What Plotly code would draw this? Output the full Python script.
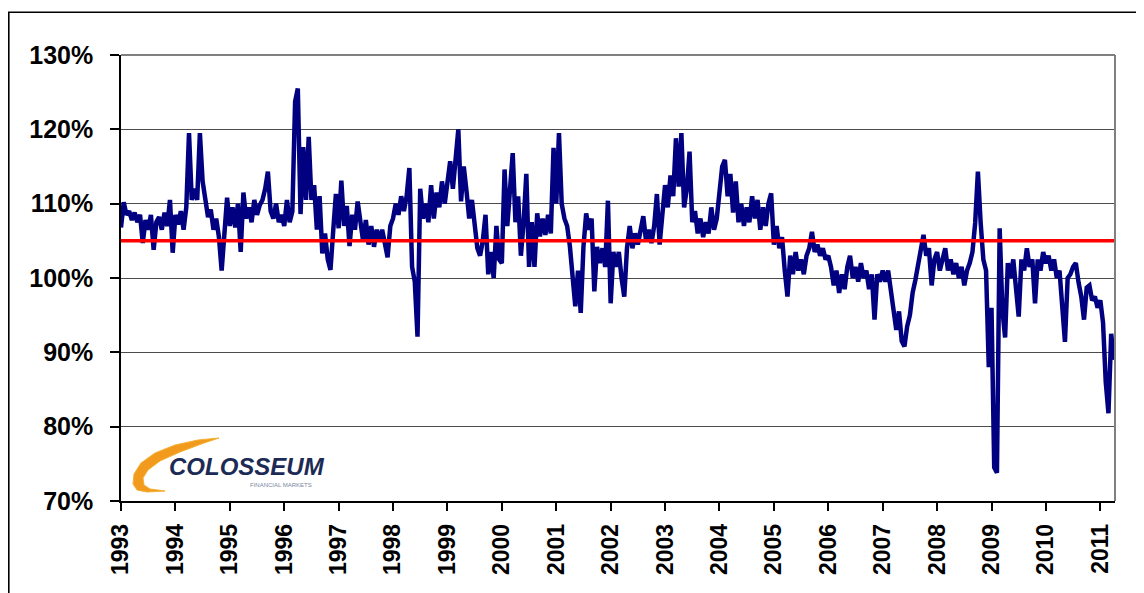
import plotly.graph_objects as go

y1993 = [106.8, 110.2, 108.5, 109.0, 107.8, 108.8, 107.5, 108.5, 104.7, 107.8,
         106.5, 108.5, 103.8, 107.5, 108.2, 106.5, 108.8, 107.0, 110.5, 103.4]
y1994 = [108.5, 107.2, 109.0, 106.5, 109.5, 119.5, 110.5, 112.0, 110.5, 119.5,
         113.0, 111.0, 108.2, 109.2, 106.5, 108.0, 105.5, 101.0, 106.0, 110.8]
y1995 = [107.0, 109.5, 106.8, 110.0, 103.5, 111.5, 108.0, 109.5, 107.5, 110.5,
         108.5, 109.8, 110.5, 112.0, 114.3, 109.0, 108.0, 110.0, 107.5, 108.5]
y1996 = [107.0, 110.5, 107.5, 109.0, 123.7, 125.5, 108.6, 117.6, 110.5, 119.0,
         110.5, 112.5, 106.5, 111.0, 103.3, 106.0, 102.5, 101.1, 106.3, 111.3]
y1997 = [106.7, 113.1, 107.0, 109.7, 104.3, 108.5, 106.5, 110.3, 107.6, 105.0,
         107.8, 104.5, 107.0, 104.2, 106.5, 105.0, 106.5, 104.5, 102.8, 107.0]
y1998 = [108.0, 110.0, 108.5, 111.0, 109.0, 111.0, 114.8, 101.5, 99.5, 92.1,
         112.0, 108.0, 110.0, 107.5, 112.5, 108.0, 111.5, 109.5, 113.0, 110.0]
y1999 = [113.0, 115.7, 112.0, 116.5, 120.0, 110.3, 115.0, 111.7, 108.0, 110.5,
         106.5, 104.0, 103.0, 105.0, 108.5, 100.5, 103.5, 100.0, 107.0, 102.5]
y2000 = [102.0, 114.6, 107.0, 112.8, 116.8, 107.5, 111.0, 103.0, 107.5, 114.0,
         101.5, 107.5, 101.5, 108.7, 105.6, 108.0, 105.8, 108.5, 106.0, 117.5]
y2001 = [110.0, 119.5, 110.0, 108.0, 107.0, 104.3, 100.0, 96.2, 101.0, 95.3,
         104.2, 108.7, 106.5, 108.0, 98.2, 104.2, 102.0, 104.0, 101.5, 110.4]
y2002 = [96.6, 103.5, 101.5, 103.5, 100.0, 97.5, 104.0, 107.0, 104.0, 106.0,
         104.5, 106.5, 108.3, 105.0, 106.5, 104.7, 107.0, 111.3, 104.5, 108.5]
y2003 = [112.5, 109.5, 113.8, 111.0, 118.8, 112.3, 119.5, 109.5, 112.0, 117.0,
         107.5, 109.0, 106.0, 108.0, 105.5, 107.5, 106.0, 109.5, 106.5, 108.0]
y2004 = [111.0, 115.0, 115.9, 111.0, 114.0, 108.8, 113.0, 107.5, 110.0, 107.0,
         109.5, 107.5, 111.0, 108.0, 110.5, 106.5, 109.5, 107.0, 110.0, 111.4]
y2005 = [104.5, 107.0, 104.0, 105.5, 101.0, 97.5, 103.0, 100.5, 103.5, 101.0,
         102.5, 100.5, 103.0, 104.0, 106.2, 103.5, 104.5, 103.0, 104.0, 102.5]
y2006 = [103.0, 101.5, 99.0, 101.0, 98.0, 100.5, 98.5, 101.5, 103.0, 100.0,
         101.5, 99.5, 102.0, 100.0, 101.0, 98.5, 100.5, 94.4, 100.5, 99.5]
y2007 = [101.0, 99.5, 101.0, 98.0, 96.0, 93.0, 95.5, 91.5, 90.8, 93.5,
         95.0, 98.0, 99.7, 101.5, 103.5, 105.8, 103.0, 104.0, 99.0, 102.5]
y2008 = [103.5, 101.0, 102.5, 104.0, 101.0, 102.5, 100.5, 102.0, 100.0, 101.5,
         99.0, 101.0, 102.0, 103.5, 107.4, 114.3, 107.5, 102.5, 101.0, 88.0]
y2009 = [96.0, 74.5, 73.8, 106.7, 95.7, 92.0, 102.0, 100.0, 102.5, 98.0,
         94.8, 102.5, 101.0, 104.0, 101.5, 102.5, 96.6, 102.5, 101.0, 103.5]
y2010 = [102.0, 103.0, 101.0, 102.5, 100.0, 101.0, 97.0, 91.4, 100.0, 100.5,
         101.5, 102.0, 99.4, 97.5, 94.4, 98.7, 99.0, 97.0, 97.5, 96.0]
y2011 = [97.0, 94.0, 86.0, 81.8, 92.5, 89.0]

values = (y1993 + y1994 + y1995 + y1996 + y1997 + y1998 + y1999 + y2000 + y2001 +
          y2002 + y2003 + y2004 + y2005 + y2006 + y2007 + y2008 + y2009 + y2010 + y2011)
dates = [1993 + i / 20 for i in range(len(values))]

benchmark = 105
year_ticks = list(range(1993, 2012))
year_labels = [str(y) for y in year_ticks]
pct_ticks = [70, 80, 90, 100, 110, 120, 130]
pct_labels = [f"{v}%" for v in pct_ticks]
x_range = [1993, 2011.27]

# ---- layout geometry (screen pixels; page body has an 8px margin) ----
OFF = 8
SCREEN_W, SCREEN_H = 1144, 593
W, H = SCREEN_W - OFF, SCREEN_H - OFF
L, R, T, B = 121, 1115, 55, 501


def px(xp, yp):
    return (xp - L) / (R - L), (B - yp) / (B - T)


fig = go.Figure()
fig.add_trace(go.Scatter(x=dates, y=values, mode="lines",
                         line=dict(color="#000080", width=4.5), hoverinfo="skip"))
fig.add_trace(go.Scatter(x=x_range, y=[benchmark, benchmark], mode="lines",
                         line=dict(color="#FF0000", width=3.5), hoverinfo="skip"))

shapes = []
# outer frame
fx0, fy0 = px(OFF + 0.8, 640)
fx1, fy1 = px(1160, 12.3)
shapes.append(dict(type="rect", xref="paper", yref="paper", x0=fx0, y0=fy0, x1=fx1, y1=fy1,
                   line=dict(color="black", width=1.6), layer="below"))
# plot border top/right grey
shapes.append(dict(type="line", xref="paper", yref="paper", x0=0, y0=1, x1=1, y1=1,
                   line=dict(color="#808080", width=2)))
shapes.append(dict(type="line", xref="paper", yref="paper", x0=1, y0=0, x1=1, y1=1,
                   line=dict(color="#808080", width=2)))

# logo swoosh
sw = [(219, 438), (198, 440), (175, 445), (155, 453), (141, 463), (134, 474), (133, 484),
      (137, 490), (147, 492), (165, 491), (150, 489), (144, 485), (143, 478), (148, 470),
      (160, 461), (180, 452), (204, 443)]
path = ""
for i, (a, b) in enumerate(sw):
    xx, yy = px(a, b)
    path += ("M" if i == 0 else "L") + f"{xx:.5f},{yy:.5f} "
path += "Z"
shapes.append(dict(type="path", xref="paper", yref="paper", path=path,
                   fillcolor="#F29A1E", line=dict(color="#F5B030", width=1), layer="above"))

annotations = []
lx, ly = px(247, 466)
annotations.append(dict(x=lx, y=ly, xref="paper", yref="paper", xanchor="center", yanchor="middle",
                        text="<b><i>COLOSSEUM</i></b>", showarrow=False,
                        font=dict(family="Liberation Sans", size=24, color="#1C2B55")))
sx, sy = px(281, 484.5)
annotations.append(dict(x=sx, y=sy, xref="paper", yref="paper", xanchor="center", yanchor="middle",
                        text="FINANCIAL MARKETS", showarrow=False,
                        font=dict(family="Liberation Sans", size=6, color="#7A86A0")))

fig.update_layout(
    width=W, height=H,
    margin=dict(l=L - OFF, r=(SCREEN_W - OFF) - R + (W - (SCREEN_W - 2 * OFF)),
                t=T - OFF, b=(SCREEN_H - OFF) - B + (H - (SCREEN_H - 2 * OFF)), pad=0),
    paper_bgcolor="white", plot_bgcolor="white",
    showlegend=False,
    shapes=shapes, annotations=annotations,
    font=dict(family="Liberation Sans", color="black"),
    xaxis=dict(range=x_range, tickmode="array", tickvals=year_ticks, ticktext=year_labels,
               tickangle=-90, ticks="outside", ticklen=8, tickwidth=1.5, tickcolor="black",
               showline=True, linecolor="black", linewidth=1.5, showgrid=False, zeroline=False,
               ticklabelstandoff=4,
               tickfont=dict(family="Liberation Sans", size=23, color="black", weight="bold")),
    yaxis=dict(range=[70, 130], tickmode="array", tickvals=pct_ticks, ticktext=pct_labels,
               ticks="outside", ticklen=9, tickwidth=1.5, tickcolor="black",
               showline=True, linecolor="black", linewidth=1.5, showgrid=True,
               gridcolor="#4D4D4D", gridwidth=1, zeroline=False, ticklabelstandoff=12,
               tickfont=dict(family="Liberation Sans", size=25, color="black", weight="bold")),
)

fig.write_html("out.html")
